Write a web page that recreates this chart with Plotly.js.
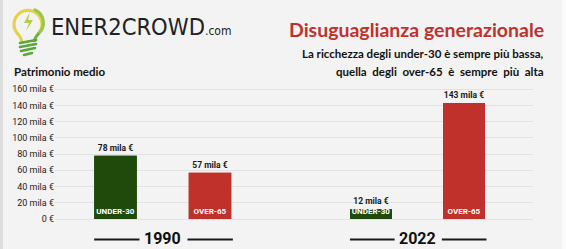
<!DOCTYPE html>
<html>
<head>
<meta charset="utf-8">
<script src="https://cdn.plot.ly/plotly-3.0.1.min.js"></script>
<style>html,body{margin:0;padding:0;background:#f3f3f3;}#chart{width:566px;height:249px;}</style>
</head>
<body>
<div id="chart"></div>
<script>
// ---- data ----
const categories = ['UNDER-30', 'OVER-65'];
const years = ['1990', '2022'];
const values1990 = [78, 57];
const values2022 = [12, 143];
const tickValues = [0, 20, 40, 60, 80, 100, 120, 140, 160];
const tickLabels = ['0 €', '20 mila €', '40 mila €', '60 mila €', '80 mila €', '100 mila €', '120 mila €', '140 mila €', '160 mila €'];

// ---- styles ----
const GREEN = '#1f4a0b', RED = '#c0312c';
const barColors = [GREEN, RED];
const narrow = 'Liberation Sans Narrow, Roboto, sans-serif';
const W = 566, H = 249, L = 55, R = 33, T = 81, B = 30;
const pw = W - L - R, ph = H - T - B;
const px = x => (x - L) / pw;
const py = y => (H - B - y) / ph;

function barTraces(vals, xa) {
  return [
    {type: 'bar', x: categories, y: vals, xaxis: xa, yaxis: 'y',
     marker: {color: barColors}, text: vals.map(v => v + ' mila €'), textposition: 'outside',
     textangle: 0, constraintext: 'none',
     outsidetextfont: {family: narrow, size: 8.5, color: '#1a1a1a', weight: 'bold'},
     hoverinfo: 'skip', showlegend: false, cliponaxis: false},
    {type: 'bar', x: categories, y: vals, xaxis: xa, yaxis: 'y',
     marker: {color: barColors}, text: categories, texttemplate: '<b>%{text}</b>', textposition: 'inside',
     insidetextanchor: 'start', textangle: 0, constraintext: 'none',
     insidetextfont: {family: 'Roboto', size: 8, color: '#ffffff', weight: 'bold'},
     hoverinfo: 'skip', showlegend: false, cliponaxis: false}
  ];
}

const data = [
  {type: 'scatter', x: [], y: [], xaxis: 'x', yaxis: 'y', showlegend: false, hoverinfo: 'skip'},
  ...barTraces(values1990, 'x2'),
  ...barTraces(values2022, 'x3')
];

const dom1 = [px(68.25), px(257.25)];
const dom2 = [px(324.5), px(510.5)];

const logoSvg = '<svg xmlns="http://www.w3.org/2000/svg" width="40" height="56" viewBox="0 0 40 56">' +
  '<path d="M9 31 A14 14 0 1 1 31 31" fill="none" stroke="#e6d24a" stroke-width="3.2" stroke-linecap="round"/>' +
  '<path d="M27 8 A14 14 0 0 1 31 31" fill="none" stroke="#9cc64a" stroke-width="3.2" stroke-linecap="round"/>' +
  '<path d="M31 31 Q27 35 26 40" fill="none" stroke="#6fb23f" stroke-width="3"/>' +
  '<path d="M9 31 Q13 35 14 40" fill="none" stroke="#d9d54a" stroke-width="3"/>' +
  '<path d="M22 10 L16 21 L21 21 L18 29 L25 18 L20 18 Z" fill="#b8cc46"/>' +
  '<path d="M12 41 L28 38" stroke="#5aa83c" stroke-width="2.6" stroke-linecap="round"/>' +
  '<path d="M12 45 L28 42" stroke="#5aa83c" stroke-width="2.6" stroke-linecap="round"/>' +
  '<path d="M13 49 L27 46" stroke="#5aa83c" stroke-width="2.6" stroke-linecap="round"/>' +
  '<path d="M16 53 L24 51" stroke="#5aa83c" stroke-width="2.6" stroke-linecap="round"/>' +
  '</svg>';

const yearLines = [];
['x2', 'x3'].forEach(ax => {
  [[0.137, 0.377], [0.631, 0.871]].forEach(([a, b]) => {
    yearLines.push({type: 'line', xref: ax + ' domain', x0: a, x1: b, yref: 'paper', y0: py(239.5), y1: py(239.5),
      line: {color: '#1a1a1a', width: 2}});
  });
});

const layout = {
  width: W, height: H,
  margin: {l: L, r: R, t: T, b: B, pad: 0},
  paper_bgcolor: '#f3f3f3', plot_bgcolor: 'rgba(0,0,0,0)',
  barmode: 'overlay', bargap: 0.55,
  font: {family: narrow, color: '#1a1a1a'},
  xaxis: {domain: [0, 1], anchor: 'y', visible: false, range: [0, 1], fixedrange: true},
  xaxis2: {domain: dom1, anchor: 'y', type: 'category', showticklabels: false, showgrid: false, zeroline: false, showline: false, fixedrange: true},
  xaxis3: {domain: dom2, anchor: 'y', type: 'category', showticklabels: false, showgrid: false, zeroline: false, showline: false, fixedrange: true},
  yaxis: {anchor: 'x', range: [0, 170], tickvals: tickValues, ticktext: tickLabels,
    showgrid: true, gridcolor: '#e2e2e2', gridwidth: 1, zeroline: true, zerolinecolor: '#e2e2e2', zerolinewidth: 1,
    ticks: '', ticklen: 0, tickfont: {family: narrow, size: 9, color: '#222'}, showline: false, fixedrange: true},
  images: [{source: 'data:image/svg+xml;charset=utf-8,' + encodeURIComponent(logoSvg),
    xref: 'paper', yref: 'paper', x: px(8), y: py(2), sizex: 40 / pw, sizey: 56 / ph,
    xanchor: 'left', yanchor: 'top', sizing: 'stretch', layer: 'above'}],
  shapes: [
    {type: 'rect', xref: 'paper', yref: 'paper', x0: px(0), x1: px(3), y0: py(249), y1: py(0), fillcolor: '#dedede', line: {width: 0}, layer: 'below'},
    {type: 'rect', xref: 'paper', yref: 'paper', x0: px(562), x1: px(566), y0: py(249), y1: py(0), fillcolor: '#fbfbfb', line: {width: 0}, layer: 'below'},
    ...yearLines
  ],
  annotations: [
    {xref: 'paper', yref: 'paper', x: px(49), y: py(27), xanchor: 'left', yanchor: 'middle', showarrow: false,
     text: 'ENER2CROWD<span style="font-size:12px">.com</span>',
     font: {family: 'DejaVu Sans Condensed, DejaVu Sans', size: 23.5, color: '#222'}},
    {xref: 'paper', yref: 'paper', x: px(546), y: py(30), xanchor: 'right', yanchor: 'middle', showarrow: false,
     text: 'Disuguaglianza generazionale', font: {family: 'Lato', size: 19.5, color: RED, weight: 'bold'}},
    {xref: 'paper', yref: 'paper', x: px(546), y: py(53), xanchor: 'right', yanchor: 'middle', showarrow: false,
     text: 'La ricchezza degli under-30 è sempre più bassa,', font: {family: 'Lato', size: 11.5, color: '#111', weight: 'bold'}},
    {xref: 'paper', yref: 'paper', x: px(546), y: py(72), xanchor: 'right', yanchor: 'middle', showarrow: false,
     text: 'quella\u00a0 degli\u00a0 over-65\u00a0 è\u00a0 sempre\u00a0 più\u00a0 alta', font: {family: 'Lato', size: 11.5, color: '#111', weight: 'bold'}},
    {xref: 'paper', yref: 'paper', x: px(12), y: py(72), xanchor: 'left', yanchor: 'middle', showarrow: false,
     text: 'Patrimonio medio', font: {family: 'Lato', size: 11.5, color: '#111', weight: 'bold'}},
    {xref: 'x2 domain', yref: 'paper', x: 0.5, y: py(238.5), xanchor: 'center', yanchor: 'middle', showarrow: false,
     text: years[0], font: {family: 'Roboto', size: 16, color: '#111', weight: 'bold'}},
    {xref: 'x3 domain', yref: 'paper', x: 0.5, y: py(238.5), xanchor: 'center', yanchor: 'middle', showarrow: false,
     text: years[1], font: {family: 'Roboto', size: 16, color: '#111', weight: 'bold'}}
  ]
};

Plotly.newPlot('chart', data, layout, {staticPlot: true, displayModeBar: false});
</script>
</body>
</html>
